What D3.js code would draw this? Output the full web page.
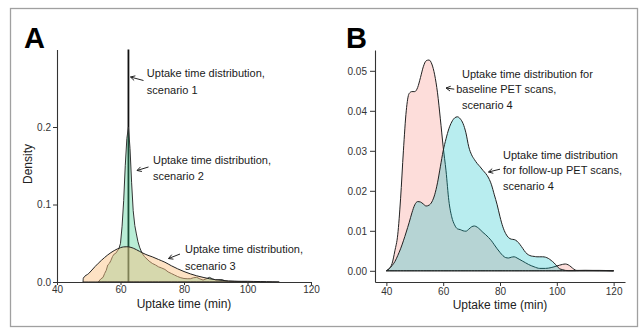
<!DOCTYPE html>
<html><head><meta charset="utf-8">
<script src="https://cdn.jsdelivr.net/npm/d3@7"></script>
<style>
html,body{margin:0;padding:0;background:#fff;}
svg{display:block;font-family:"Liberation Sans",Arial,sans-serif;}
</style></head>
<body><svg id="c" width="641" height="328"></svg>
<script>
// ---------- Panel A data ----------
const xTicksA = [40, 60, 80, 100, 120];
const yTicksA = [0, 0.1, 0.2];
const s1X = 62.5; // scenario 1: point-mass (vertical line)
const s2X = [53,53.8,54.5,55,55.5,56,56.5,57,57.5,58,58.5,59,59.5,60,60.5,61,61.5,62,62.5,63,63.5,64,64.5,65,65.5,66,66.5,67,67.5,68,69,70,71,72,73,74,75,76,77,78,79,80,81,82,83,84,85,86,87,88,89,90,91,92,93,94,96,98,100];
const s2Y = [0,0.004,0.006,0.011,0.015,0.022,0.024,0.028,0.033,0.036,0.037,0.040,0.043,0.050,0.072,0.105,0.150,0.185,0.200,0.172,0.128,0.092,0.073,0.062,0.052,0.045,0.040,0.036,0.033,0.031,0.027,0.024,0.022,0.0195,0.018,0.0162,0.013,0.011,0.009,0.007,0.0055,0.0045,0.0042,0.0042,0.0055,0.006,0.004,0.0025,0.004,0.006,0.004,0.0025,0.003,0.003,0.0015,0.001,0.0008,0.0005,0];
const s3X = [48.2,48.3,50,52,54,56,58,60,61,62,63,64,66,68,70,72,74,76,78,80,82,84,86,88,90,92,94,96,98,100,102,104,106,108,110];
const s3Y = [0,0.005,0.011,0.020,0.028,0.035,0.0405,0.0443,0.0453,0.0455,0.045,0.0437,0.0395,0.0355,0.0325,0.029,0.0255,0.021,0.017,0.0135,0.0105,0.008,0.006,0.0042,0.003,0.0021,0.0013,0.001,0.0009,0.0009,0.0007,0.0006,0.0004,0.0002,0];

// ---------- Panel B data ----------
const xTicksB = [40, 60, 80, 100, 120];
const yTicksB = [0, 0.01, 0.02, 0.03, 0.04, 0.05];
const baseX = [40,41,42,43,44,45,46,47,48,49,50,51,52,53,54,55,56,57,58,59,60,61,62,63,64,65,66,67,68,69,70,71,72,73,74,75,76,77,78,79,80,81,82,83,84,85,86,87,88,89,90,92,94,96,98,100,102,103,104,105,106,107,108,110,115,120];
const baseY = [0,0.0006,0.0018,0.005,0.009,0.018,0.030,0.040,0.0443,0.0448,0.0448,0.0458,0.0483,0.051,0.0525,0.0527,0.0517,0.049,0.0445,0.038,0.031,0.025,0.0175,0.0135,0.0115,0.0105,0.0103,0.0100,0.0099,0.0104,0.011,0.0112,0.0109,0.0103,0.0096,0.009,0.0083,0.0075,0.0065,0.0055,0.0046,0.0038,0.0033,0.0032,0.0034,0.0035,0.0032,0.0028,0.0024,0.002,0.0016,0.001,0.0006,0.0006,0.0008,0.0012,0.0016,0.0017,0.0015,0.001,0.0004,0.0001,0.0001,0.0001,0.0001,0];
const followX = [40,41,42,43,44,45,46,47,48,49,50,51,52,53,54,55,56,57,58,59,60,61,62,63,64,65,66,67,68,69,70,71,72,73,74,75,76,77,78,79,80,81,82,83,84,85,86,87,88,89,90,91,92,93,94,95,96,97,98,99,100,101,102,103,104,106,110,115,120];
const followY = [0,0.0005,0.0013,0.0023,0.0038,0.0055,0.0075,0.0097,0.012,0.0145,0.0165,0.0173,0.0172,0.0167,0.0162,0.0164,0.0172,0.019,0.022,0.026,0.030,0.033,0.0355,0.0372,0.0382,0.0385,0.038,0.0368,0.0345,0.031,0.029,0.0278,0.0268,0.026,0.0251,0.0243,0.0232,0.0215,0.019,0.0165,0.0135,0.011,0.0093,0.0083,0.0079,0.0078,0.0074,0.0066,0.0056,0.0046,0.0040,0.0037,0.0036,0.0035,0.0035,0.0035,0.0034,0.0031,0.0026,0.002,0.0012,0.0005,0.0003,0.0001,0.00005,0.00005,0.0001,0.00005,0];

// ---------- Annotations (data coordinates) ----------
const annA = [
  {lines:[{x:68.3,y:0.2645,t:"Uptake time distribution,"},{x:68.3,y:0.2426,t:"scenario 1"}], arrow:[67.24,0.260,63.15,0.2645]},
  {lines:[{x:70.24,y:0.1529,t:"Uptake time distribution,"},{x:70.24,y:0.1316,t:"scenario 2"}], arrow:[68.82,0.1484,65.2,0.1439]},
  {lines:[{x:80.3,y:0.0368,t:"Uptake time distribution,"},{x:80.3,y:0.0161,t:"scenario 3"}], arrow:[78.74,0.0361,75.12,0.0303]}
];
const annB = [
  {lines:[{x:66.62,y:0.0483,t:"Uptake time distribution for"},{x:64.6,y:0.0444,t:"baseline PET scans,"},{x:66.62,y:0.04055,t:"scenario 4"}], arrow:[63.9,0.0454,61.0,0.0457]},
  {lines:[{x:81.06,y:0.02805,t:"Uptake time distribution"},{x:81.06,y:0.02418,t:"for follow-up PET scans,"},{x:81.06,y:0.0203,t:"scenario 4"}], arrow:[80.0,0.0254,75.95,0.0247]}
];

const svg = d3.select("#c");
const FONT = '"Liberation Sans",Arial,sans-serif';

// frame
svg.append("rect").attr("x",10.5).attr("y",8.5).attr("width",627).attr("height",318)
  .attr("fill","none").attr("stroke","#a0a0a0").attr("stroke-width",1.3);

// ---------- scales ----------
const xA = d3.scaleLinear().domain([40,120]).range([57,311]);
const yA = d3.scaleLinear().domain([0,0.3]).range([282,49.5]);
const xB = d3.scaleLinear().domain([36,124]).range([375,625]);
const yB = d3.scaleLinear().domain([-0.0028,0.0552]).range([282,50]);

function zipXY(xs, ys){ return xs.map((x,i)=>[x, ys[i]]); }

function arrow(g, sx, sy, x1, y1, x2, y2){
  const ax = sx(x1), ay = sy(y1), bx = sx(x2), by = sy(y2);
  const ang = Math.atan2(ay-by, ax-bx);
  const L = 5, w = 0.5;
  const p1 = [bx + L*Math.cos(ang+w), by + L*Math.sin(ang+w)];
  const p2 = [bx + L*Math.cos(ang-w), by + L*Math.sin(ang-w)];
  g.append("path").attr("d",`M${ax},${ay}L${bx},${by}M${p1[0]},${p1[1]}L${bx},${by}L${p2[0]},${p2[1]}`)
    .attr("fill","none").attr("stroke","#222").attr("stroke-width",1);
}
function annotate(g, sx, sy, list){
  list.forEach(a=>{
    a.lines.forEach(l=>{
      g.append("text").attr("x",sx(l.x)).attr("y",sy(l.y)).attr("font-size",11)
        .attr("fill","#1a1a1a").attr("font-family",FONT).text(l.t);
    });
    arrow(g, sx, sy, ...a.arrow);
  });
}
function styleAxis(sel){
  sel.select(".domain").attr("stroke","#333").attr("stroke-width",1.1);
  sel.selectAll(".tick line").attr("stroke","#333");
  sel.selectAll(".tick text").attr("fill","#333").attr("font-size",10).attr("font-family",FONT);
}

// ---------- Panel A ----------
const gA = svg.append("g");
// scenario 1 vertical line
gA.append("line").attr("x1",xA(s1X)).attr("x2",xA(s1X)).attr("y1",yA(0)).attr("y2",yA(0.3))
  .attr("stroke","#111").attr("stroke-width",1.8);
const areaA = d3.area().x(d=>xA(d[0])).y0(yA(0)).y1(d=>yA(d[1]));
gA.append("path").datum(zipXY(s2X,s2Y)).attr("d",areaA.curve(d3.curveLinear))
  .attr("fill","rgb(43,201,132)").attr("fill-opacity",0.33).attr("stroke","#333").attr("stroke-width",1);
gA.append("path").datum(zipXY(s3X,s3Y)).attr("d",areaA.curve(d3.curveMonotoneX))
  .attr("fill","rgb(251,191,124)").attr("fill-opacity",0.45).attr("stroke","#222").attr("stroke-width",1);

const axAx = gA.append("g").attr("transform",`translate(0,${yA(0)})`)
  .call(d3.axisBottom(xA).tickValues(xTicksA).tickSize(3).tickSizeOuter(0).tickPadding(1));
styleAxis(axAx);
const axAy = gA.append("g").attr("transform",`translate(${xA(40)},0)`)
  .call(d3.axisLeft(yA).tickValues(yTicksA).tickFormat(d3.format(".1f")).tickSize(4).tickSizeOuter(0).tickPadding(2));
styleAxis(axAy);

gA.append("text").attr("x",(xA(40)+xA(120))/2).attr("y",308).attr("text-anchor","middle")
  .attr("font-size",12).attr("fill","#222").attr("font-family",FONT).text("Uptake time (min)");
gA.append("text").attr("transform","translate(32,164) rotate(-90)").attr("text-anchor","middle")
  .attr("font-size",12).attr("fill","#222").attr("font-family",FONT).text("Density");
gA.append("text").attr("x",24).attr("y",48).attr("font-size",29).attr("font-weight","bold")
  .attr("fill","#000").attr("font-family",FONT).text("A");
annotate(gA, xA, yA, annA);

// ---------- Panel B ----------
const gB = svg.append("g");
const areaB = d3.area().x(d=>xB(d[0])).y0(yB(0)).y1(d=>yB(d[1])).curve(d3.curveMonotoneX);
gB.append("path").datum(zipXY(baseX,baseY)).attr("d",areaB)
  .attr("fill","rgb(248,118,109)").attr("fill-opacity",0.25).attr("stroke","#222").attr("stroke-width",1);
gB.append("path").datum(zipXY(followX,followY)).attr("d",areaB)
  .attr("fill","rgb(0,191,196)").attr("fill-opacity",0.28).attr("stroke","#222").attr("stroke-width",1);

const axBx = gB.append("g").attr("transform",`translate(0,282)`)
  .call(d3.axisBottom(xB).tickValues(xTicksB).tickSize(4).tickSizeOuter(0).tickPadding(2));
styleAxis(axBx);
const axBy = gB.append("g").attr("transform",`translate(375,0)`)
  .call(d3.axisLeft(yB).tickValues(yTicksB).tickFormat(d3.format(".2f")).tickSize(5).tickSizeOuter(0).tickPadding(3));
styleAxis(axBy);

gB.append("text").attr("x",xB(80)).attr("y",309).attr("text-anchor","middle")
  .attr("font-size",12).attr("fill","#222").attr("font-family",FONT).text("Uptake time (min)");
gB.append("text").attr("x",346).attr("y",48).attr("font-size",29).attr("font-weight","bold")
  .attr("fill","#000").attr("font-family",FONT).text("B");
annotate(gB, xB, yB, annB);
</script></body></html>
